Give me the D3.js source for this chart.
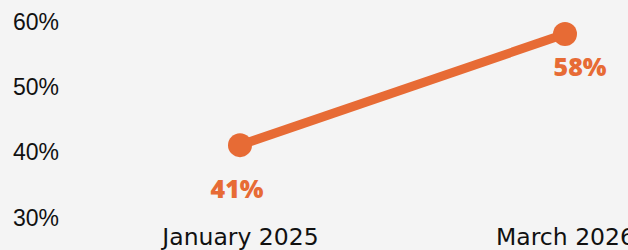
<!DOCTYPE html>
<html>
<head>
<meta charset="utf-8">
<script src="https://cdn.jsdelivr.net/npm/d3@7"></script>
<style>
  html, body { margin: 0; padding: 0; background: #f4f4f4; }
  svg { display: block; }
</style>
</head>
<body>
<svg id="chart"></svg>
<script>
var categories = ["January 2025", "March 2026"];
var values = [41, 58];
var yTicks = [30, 40, 50, 60];

var width = 628;
var height = 250;
var orange = "#e76b35";

var chart = d3.select("#chart")
  .attr("width", width)
  .attr("height", height);

var x = d3.scalePoint()
  .domain(categories)
  .range([240, 565]);

var y = d3.scaleLinear()
  .domain([30, 60])
  .range([217, 21]);

// y axis labels, no lines
var yAxis = chart.append("g")
  .attr("transform", "translate(13,0)")
  .call(d3.axisLeft(y).tickValues(yTicks).tickSize(0).tickFormat((d) => d + "%"));
yAxis.select(".domain").remove();
yAxis.selectAll("text")
  .attr("x", 0)
  .attr("text-anchor", "start")
  .attr("dy", "0.36em")
  .attr("fill", "#111")
  .style("font-family", "'Liberation Sans', Arial, sans-serif")
  .style("font-size", "23px");

// x axis labels
var xAxis = chart.append("g")
  .attr("transform", "translate(0,245)")
  .call(d3.axisBottom(x).tickSize(0).tickPadding(0));
xAxis.select(".domain").remove();
xAxis.selectAll("text")
  .attr("y", 0)
  .attr("dy", 0)
  .attr("fill", "#111")
  .style("font-family", "'DejaVu Sans', sans-serif")
  .style("font-size", "23.5px");

var pts = categories.map((c, i) => ({cat: c, val: values[i]}));

chart.append("path")
  .datum(pts)
  .attr("fill", "none")
  .attr("stroke", orange)
  .attr("stroke-width", 9)
  .attr("d", d3.line().x((d) => x(d.cat)).y((d) => y(d.val)));

chart.selectAll("circle.dot")
  .data(pts)
  .enter().append("circle")
    .attr("class", "dot")
    .attr("cx", (d) => x(d.cat))
    .attr("cy", (d) => y(d.val))
    .attr("r", 12)
    .attr("fill", orange);

// value labels; the last one is nudged right like the original
chart.selectAll("text.val")
  .data(pts)
  .enter().append("text")
    .attr("class", "val")
    .attr("x", (d, i) => x(d.cat) + (i === pts.length - 1 ? 15 : -3))
    .attr("y", (d, i) => y(d.val) + (i === pts.length - 1 ? 42 : 53))
    .attr("text-anchor", "middle")
    .attr("fill", orange)
    .style("font-family", "'Open Sans', sans-serif")
    .style("font-weight", "800")
    .style("font-size", "25px")
    .text((d) => d.val + "%");
</script>
</body>
</html>
